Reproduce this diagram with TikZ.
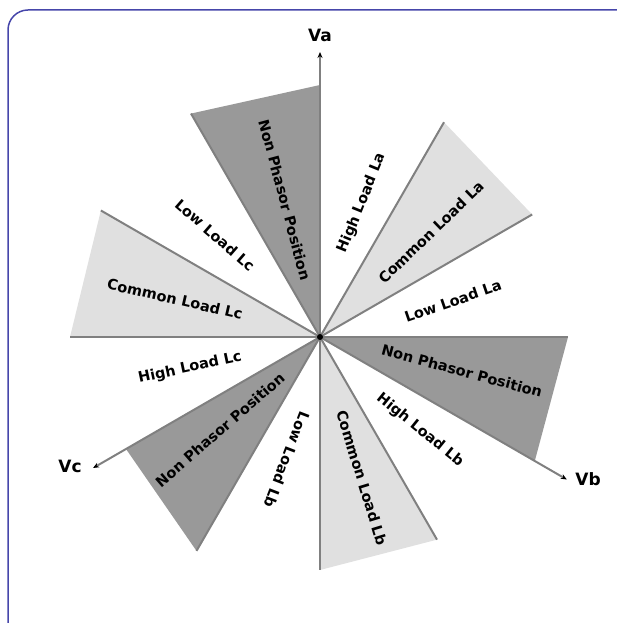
\documentclass[tikz,border=0pt]{standalone}
\usepackage{fontspec}
\setmainfont{DejaVu Sans}
\usetikzlibrary{arrows.meta,calc}
\definecolor{framecol}{RGB}{70,70,170}

\begin{document}
\begin{tikzpicture}[x=1pt, y=1pt,
    sector/.style={font=\bfseries\fontsize{14.5}{16}\selectfont, inner sep=0pt},
    phase/.style={font=\bfseries\fontsize{17}{20}\selectfont, inner sep=0pt},
    ray/.style={draw=black!50, line width=2pt},
    axis/.style={ray, -{Stealth[black, length=6pt, width=5pt]}},
    darkfill/.style={fill=black!40},
    lightfill/.style={fill=black!12}]

    \useasboundingbox (0,0) rectangle (617,623);
    \clip (0,0) rectangle (617,623);
    \draw[framecol, line width=1.5pt, rounded corners=20pt] (8,-20) rectangle (640,613);

    \coordinate (O) at (320,286);
    % corners of the sectors
    \coordinate (r0)   at ($(O)+(0:248)$);
    \coordinate (r30)  at ($(O)+(30:245)$);
    \coordinate (r60)  at ($(O)+(60:248)$);
    \coordinate (r90)  at ($(O)+(90:252)$);
    \coordinate (r120) at ($(O)+(120:258)$);
    \coordinate (r150) at ($(O)+(150:253)$);
    \coordinate (r180) at ($(O)+(180:250)$);
    \coordinate (r210) at ($(O)+(210:224)$);
    \coordinate (r240) at ($(O)+(240:247)$);
    \coordinate (r270) at ($(O)+(270:233)$);
    \coordinate (r300) at ($(O)+(300:234)$);
    \coordinate (r330) at ($(O)+(330:248)$);
    % phasor tips
    \coordinate (va) at ($(O)+(90:285)$);
    \coordinate (vb) at ($(O)+(330:285)$);
    \coordinate (vc) at ($(O)+(210:262)$);

    \fill[darkfill]  (O) -- (r90) -- (r120) -- cycle;
    \fill[lightfill] (O) -- (r30) -- (r60) -- cycle;
    \fill[darkfill]  (O) -- (r0) -- (r330) -- cycle;
    \fill[lightfill] (O) -- (r270) -- (r300) -- cycle;
    \fill[darkfill]  (O) -- (r210) -- (r240) -- cycle;
    \fill[lightfill] (O) -- (r150) -- (r180) -- cycle;

    \draw[ray] (O) -- (r0);
    \draw[ray] (O) -- (r30);
    \draw[ray] (O) -- (r60);
    \draw[ray] (O) -- (r120);
    \draw[ray] (O) -- (r150);
    \draw[ray] (O) -- (r180);
    \draw[ray] (O) -- (r240);
    \draw[ray] (O) -- (r270);
    \draw[ray] (O) -- (r300);
    \draw[axis] (O) -- (va);
    \draw[axis] (O) -- (vb);
    \draw[axis] (O) -- (vc);

    \node[circle, fill=black, inner sep=0pt, minimum size=6pt] (dot) at (O) {};

    \node[phase] (lva) at (320,588) {Va};
    \node[phase] (lvb) at (588,144) {Vb};
    \node[phase] (lvc) at (70,157) {Vc};

    \node[sector, rotate=-75] (npa) at (285,423) {Non Phasor Position};
    \node[sector, rotate=68]  (hla) at (362,420) {High Load La};
    \node[sector, rotate=44]  (cla) at (431,391) {Common Load La};
    \node[sector, rotate=19]  (lla) at (453,322) {Low Load La};
    \node[sector, rotate=-15] (npb) at (462,252) {Non Phasor Position};
    \node[sector, rotate=-39] (hlb) at (420,193) {High Load Lb};
    \node[sector, rotate=-73] (clb) at (362,145) {Common Load Lb};
    \node[sector, rotate=249] (llb) at (287,163) {Low Load Lb};
    \node[sector, rotate=41]  (npc) at (220,193) {Non Phasor Position};
    \node[sector, rotate=12]  (hlc) at (190,255) {High Load Lc};
    \node[sector, rotate=-13] (clc) at (175,324) {Common Load Lc};
    \node[sector, rotate=-41] (llc) at (215,388) {Low Load Lc};
\end{tikzpicture}
\end{document}
